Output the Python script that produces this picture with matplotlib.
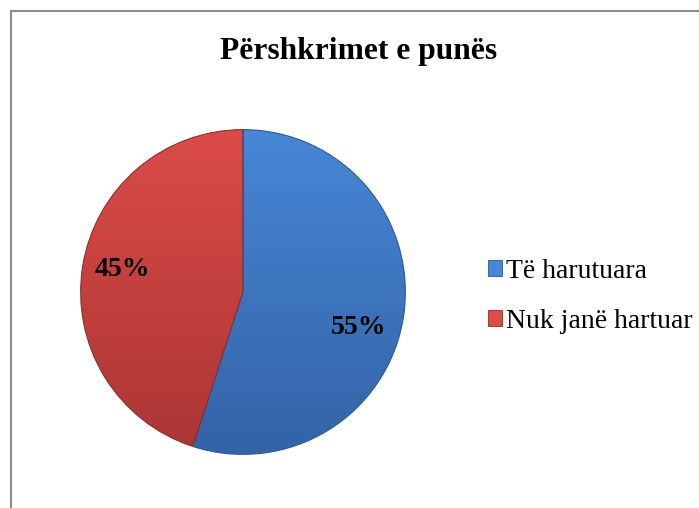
#!/usr/bin/env python3
"""pie chart: Përshkrimet e punës"""

import numpy as np
import matplotlib
matplotlib.use('Agg')
import matplotlib.pyplot as plt
from matplotlib.colors import LinearSegmentedColormap
from matplotlib.patches import Rectangle, Patch

title = 'Përshkrimet e punës'
labels = ['Të harutuara', 'Nuk janë hartuar']
values = [55, 45]
top_colors = ['#4787d6', '#db4b48']
bottom_colors = ['#3463a6', '#ab3634']
edge_colors = ['#2f5a95', '#8f2d2b']

plt.rcParams['font.family'] = ['Liberation Serif', 'DejaVu Serif']

fig = plt.figure(figsize=(6.99, 5.08), dpi=100)

# pie axes, square in pixels
ax = fig.add_axes([79 / 699, (508 - 456) / 508, 328 / 699, 328 / 508])
wedges, texts, autotexts = ax.pie(
    values, startangle=90, counterclock=False, radius=1,
    autopct='%1.0f%%', pctdistance=0.77,
    wedgeprops=dict(facecolor='none', linewidth=0.8),
    textprops=dict(fontsize=20, fontweight='bold', color='black'))

# vertical gradient fill for each slice, clipped to the wedge
grad = np.linspace(1, 0, 256).reshape(-1, 1)
for w, c_top, c_bot, c_edge in zip(wedges, top_colors, bottom_colors, edge_colors):
    w.set_edgecolor(c_edge)
    cmap = LinearSegmentedColormap.from_list('g', [c_bot, c_top])
    im = ax.imshow(grad, extent=(-1, 1, -1, 1), cmap=cmap, aspect='auto',
                   zorder=0.5, origin='upper')
    im.set_clip_path(w)

# nudge the labels like the original
x, y = autotexts[0].get_position()
autotexts[0].set_position((x - 0.05, y - 0.1))
x, y = autotexts[1].get_position()
autotexts[1].set_position((x + 0.02, y + 0.02))

ax.set_xlim(-1.01, 1.01)
ax.set_ylim(-1.01, 1.01)
ax.set_aspect('equal')
ax.axis('off')

fig.text(359 / 699, 1 - 52 / 508, title, ha='center', va='center',
         fontsize=22.7, fontweight='bold')

handles = [Patch(facecolor=c, edgecolor=e, linewidth=0.6)
           for c, e in zip(top_colors, edge_colors)]
fig.legend(handles, labels, loc='center left',
           bbox_to_anchor=(474 / 699, 1 - 296 / 508), frameon=False,
           fontsize=20, handlelength=0.5, handleheight=0.5,
           handletextpad=0.15, labelspacing=0.9, borderpad=0)

# outer frame
fig.patches.append(Rectangle((11 / 699, -0.1), 2, (508 - 11) / 508 + 0.1,
                             transform=fig.transFigure, fill=False,
                             edgecolor='#8c8c8c', linewidth=1.5))

fig.savefig('out.png', dpi=100)
